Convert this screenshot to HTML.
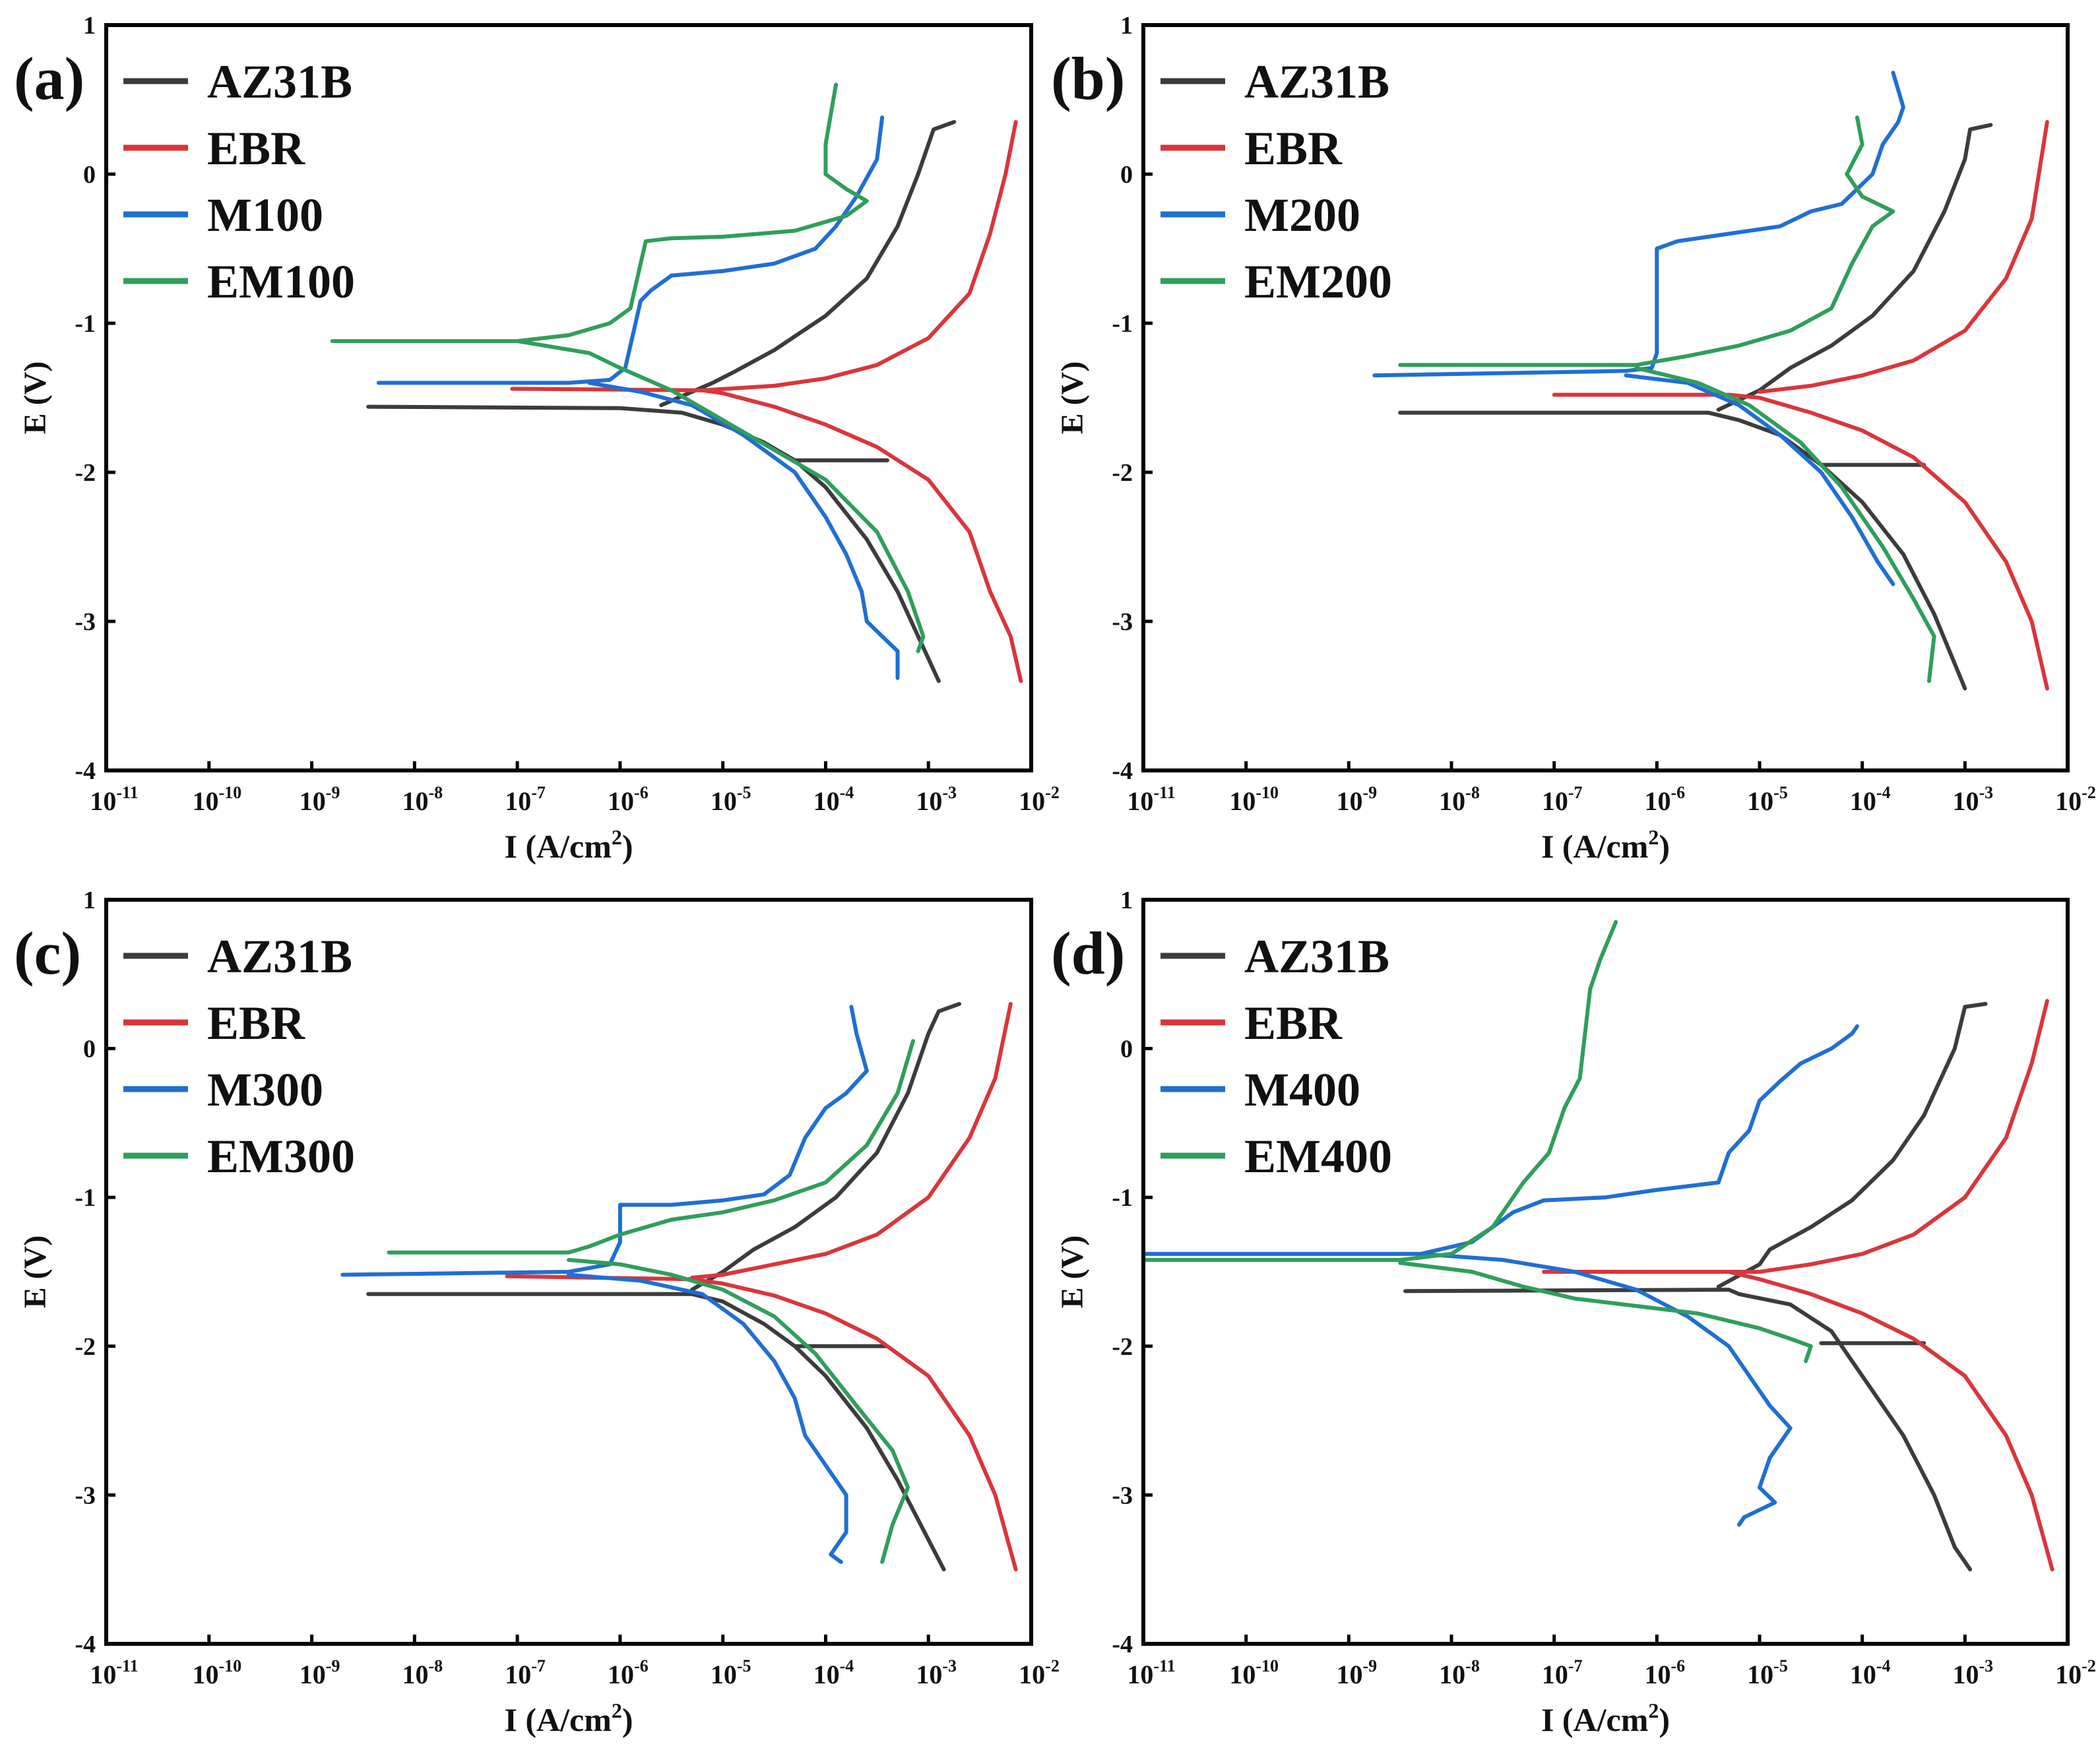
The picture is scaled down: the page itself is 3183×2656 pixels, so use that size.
<!DOCTYPE html>
<html><head><meta charset="utf-8">
<style>
html,body{margin:0;padding:0;background:#fff;}
svg{display:block;}
text{font-family:"Liberation Serif",serif;font-weight:bold;fill:#111;}
</style></head>
<body>
<svg id="fig" width="3183" height="2656" viewBox="0 0 3183 2656" xmlns="http://www.w3.org/2000/svg"></svg>
<script>
// ---- data: [log10(I), E] points ----
const xTickExps = [-11,-10,-9,-8,-7,-6,-5,-4,-3,-2];
const yTicks = [1,0,-1,-2,-3,-4];
const seriesColors = ["#3c3c3c","#d8363c","#1f6fd2","#2f9e5c"];

const aNames = ["AZ31B","EBR","M100","EM100"];
const aAZ_cat = [[-8.45,-1.56],[-6,-1.57],[-5.4,-1.6],[-5,-1.68],[-4.6,-1.8],[-4.3,-1.92],[-4,-2.1],[-3.6,-2.45],[-3.3,-2.8],[-3.1,-3.1],[-2.9,-3.4]];
const aAZ_hor = [[-4.3,-1.92],[-3.4,-1.92]];
const aAZ_ano = [[-5.6,-1.55],[-5.1,-1.4],[-4.9,-1.33],[-4.5,-1.18],[-4,-0.95],[-3.6,-0.7],[-3.3,-0.35],[-3.1,0],[-2.95,0.3],[-2.75,0.35]];
const aEBR_cat = [[-7.05,-1.44],[-5.2,-1.45],[-5,-1.47],[-4.5,-1.56],[-4,-1.68],[-3.5,-1.83],[-3,-2.05],[-2.6,-2.4],[-2.4,-2.8],[-2.2,-3.1],[-2.1,-3.4]];
const aEBR_ano = [[-5.2,-1.45],[-4.5,-1.42],[-4,-1.37],[-3.5,-1.28],[-3,-1.1],[-2.6,-0.8],[-2.4,-0.4],[-2.25,0],[-2.15,0.35]];
const aM_ano = [[-8.35,-1.4],[-6.5,-1.4],[-6.1,-1.38],[-5.95,-1.3],[-5.85,-1.0],[-5.8,-0.85],[-5.7,-0.78],[-5.5,-0.68],[-5,-0.65],[-4.5,-0.6],[-4.1,-0.5],[-3.9,-0.35],[-3.7,-0.15],[-3.5,0.1],[-3.45,0.38]];
const aM_cat = [[-6.3,-1.4],[-5.8,-1.46],[-5.3,-1.55],[-4.8,-1.75],[-4.3,-2.0],[-4,-2.3],[-3.8,-2.55],[-3.65,-2.8],[-3.6,-3.0],[-3.45,-3.1],[-3.3,-3.2],[-3.3,-3.38]];
const aEM_ano = [[-8.8,-1.12],[-7,-1.12],[-6.5,-1.08],[-6.1,-1.0],[-5.9,-0.9],[-5.8,-0.6],[-5.75,-0.45],[-5.5,-0.43],[-5,-0.42],[-4.3,-0.38],[-3.8,-0.28],[-3.6,-0.18],[-3.8,-0.1],[-4.0,0],[-4.0,0.2],[-3.95,0.4],[-3.9,0.6]];
const aEM_cat = [[-7,-1.12],[-6.3,-1.2],[-6,-1.3],[-5.5,-1.45],[-5,-1.65],[-4.5,-1.85],[-4,-2.05],[-3.5,-2.4],[-3.2,-2.8],[-3.05,-3.1],[-3.1,-3.2]];

const bNames = ["AZ31B","EBR","M200","EM200"];
const bAZ_cat = [[-8.5,-1.6],[-5.5,-1.6],[-5.2,-1.65],[-4.8,-1.75],[-4.4,-1.95],[-4,-2.2],[-3.6,-2.55],[-3.3,-2.95],[-3.0,-3.45]];
const bAZ_hor = [[-4.4,-1.95],[-3.4,-1.95]];
const bAZ_ano = [[-5.4,-1.58],[-5.0,-1.45],[-4.7,-1.3],[-4.3,-1.15],[-3.9,-0.95],[-3.5,-0.65],[-3.2,-0.25],[-3,0.1],[-2.95,0.3],[-2.75,0.33]];
const bEBR_cat = [[-7.0,-1.48],[-5.3,-1.48],[-5,-1.5],[-4.5,-1.6],[-4,-1.72],[-3.5,-1.9],[-3,-2.2],[-2.6,-2.6],[-2.35,-3],[-2.2,-3.45]];
const bEBR_ano = [[-5,-1.46],[-4.5,-1.42],[-4,-1.35],[-3.5,-1.25],[-3,-1.05],[-2.6,-0.7],[-2.35,-0.3],[-2.2,0.35]];
const bM_ano = [[-8.75,-1.35],[-6.3,-1.32],[-6.05,-1.3],[-6.0,-1.2],[-6.0,-0.5],[-5.8,-0.45],[-5.3,-0.4],[-4.8,-0.35],[-4.5,-0.25],[-4.2,-0.2],[-3.9,0],[-3.8,0.2],[-3.65,0.35],[-3.6,0.45],[-3.7,0.68]];
const bM_cat = [[-6.3,-1.35],[-5.7,-1.4],[-5.2,-1.55],[-4.8,-1.75],[-4.4,-2.0],[-4.1,-2.3],[-3.85,-2.6],[-3.7,-2.75]];
const bEM_ano = [[-8.5,-1.28],[-6.2,-1.28],[-5.7,-1.22],[-5.2,-1.15],[-4.7,-1.05],[-4.3,-0.9],[-4.1,-0.6],[-3.9,-0.35],[-3.7,-0.25],[-4.0,-0.15],[-4.15,0],[-4.0,0.2],[-4.05,0.38]];
const bEM_cat = [[-6.2,-1.3],[-5.6,-1.4],[-5.1,-1.55],[-4.6,-1.8],[-4.2,-2.1],[-3.8,-2.5],[-3.5,-2.85],[-3.3,-3.1],[-3.35,-3.4]];

const cNames = ["AZ31B","EBR","M300","EM300"];
const cAZ_cat = [[-8.45,-1.65],[-5.3,-1.65],[-5,-1.7],[-4.6,-1.85],[-4.3,-2.0],[-4.0,-2.2],[-3.6,-2.55],[-3.3,-2.9],[-2.85,-3.5]];
const cAZ_hor = [[-4.3,-2.0],[-3.4,-2.0]];
const cAZ_ano = [[-5.3,-1.62],[-5.0,-1.5],[-4.7,-1.35],[-4.3,-1.2],[-3.9,-1.0],[-3.5,-0.7],[-3.2,-0.3],[-3,0.1],[-2.9,0.25],[-2.7,0.3]];
const cEBR_cat = [[-7.1,-1.53],[-5.3,-1.55],[-5,-1.58],[-4.5,-1.66],[-4,-1.78],[-3.5,-1.95],[-3,-2.2],[-2.6,-2.6],[-2.35,-3.0],[-2.15,-3.5]];
const cEBR_ano = [[-5.3,-1.54],[-5,-1.52],[-4.5,-1.45],[-4,-1.38],[-3.5,-1.25],[-3,-1.0],[-2.6,-0.6],[-2.35,-0.2],[-2.2,0.3]];
const cM_ano = [[-8.7,-1.52],[-6.5,-1.5],[-6.1,-1.45],[-6.0,-1.3],[-6.0,-1.05],[-5.5,-1.05],[-5,-1.02],[-4.6,-0.98],[-4.35,-0.85],[-4.2,-0.6],[-4,-0.4],[-3.8,-0.3],[-3.6,-0.15],[-3.7,0.1],[-3.75,0.28]];
const cM_cat = [[-6.5,-1.52],[-5.8,-1.56],[-5.2,-1.65],[-4.8,-1.85],[-4.5,-2.1],[-4.3,-2.35],[-4.2,-2.6],[-4.0,-2.8],[-3.8,-3.0],[-3.8,-3.25],[-3.95,-3.4],[-3.85,-3.45]];
const cEM_ano = [[-8.25,-1.37],[-6.5,-1.37],[-6.3,-1.33],[-6,-1.25],[-5.5,-1.15],[-5,-1.1],[-4.5,-1.02],[-4,-0.9],[-3.6,-0.65],[-3.3,-0.3],[-3.15,0.05]];
const cEM_cat = [[-6.5,-1.42],[-6,-1.45],[-5.5,-1.52],[-5,-1.62],[-4.5,-1.8],[-4.1,-2.05],[-3.7,-2.4],[-3.35,-2.7],[-3.2,-2.95],[-3.35,-3.2],[-3.45,-3.45]];

const dNames = ["AZ31B","EBR","M400","EM400"];
const dAZ_cat = [[-8.45,-1.63],[-5.3,-1.62],[-5.2,-1.65],[-4.7,-1.72],[-4.3,-1.9],[-4.0,-2.2],[-3.6,-2.6],[-3.3,-3.0],[-3.1,-3.35],[-2.95,-3.5]];
const dAZ_hor = [[-4.4,-1.98],[-3.4,-1.98]];
const dAZ_ano = [[-5.4,-1.6],[-5,-1.45],[-4.9,-1.35],[-4.5,-1.2],[-4.1,-1.02],[-3.7,-0.75],[-3.4,-0.45],[-3.1,0],[-3.0,0.28],[-2.8,0.3]];
const dEBR_cat = [[-7.1,-1.5],[-5.3,-1.5],[-5,-1.55],[-4.5,-1.65],[-4,-1.78],[-3.5,-1.95],[-3,-2.2],[-2.6,-2.6],[-2.35,-3.0],[-2.15,-3.5]];
const dEBR_ano = [[-5.3,-1.5],[-5,-1.5],[-4.5,-1.45],[-4,-1.38],[-3.5,-1.25],[-3,-1.0],[-2.6,-0.6],[-2.35,-0.1],[-2.2,0.32]];
const dM_ano = [[-11,-1.38],[-8.3,-1.38],[-7.8,-1.3],[-7.4,-1.1],[-7.1,-1.02],[-6.5,-1.0],[-6,-0.95],[-5.4,-0.9],[-5.3,-0.7],[-5.1,-0.55],[-5,-0.35],[-4.8,-0.22],[-4.6,-0.1],[-4.3,0],[-4.1,0.1],[-4.05,0.15]];
const dM_cat = [[-8.3,-1.38],[-7.5,-1.42],[-6.8,-1.5],[-6.2,-1.62],[-5.7,-1.8],[-5.3,-2.0],[-5.05,-2.25],[-4.9,-2.4],[-4.7,-2.55],[-4.9,-2.75],[-5.0,-2.95],[-4.85,-3.05],[-5.15,-3.15],[-5.2,-3.2]];
const dEM_ano = [[-11,-1.42],[-8.5,-1.42],[-8,-1.38],[-7.6,-1.2],[-7.3,-0.9],[-7.05,-0.7],[-6.9,-0.4],[-6.75,-0.2],[-6.7,0.1],[-6.65,0.4],[-6.55,0.6],[-6.4,0.85]];
const dEM_cat = [[-8.5,-1.44],[-7.8,-1.5],[-7.3,-1.6],[-6.8,-1.68],[-6.2,-1.73],[-5.6,-1.78],[-5.0,-1.88],[-4.7,-1.95],[-4.5,-2.0],[-4.55,-2.1]];

const NS = "http://www.w3.org/2000/svg";
const svg = document.getElementById("fig");
function mk(tag, attrs, parent){
  const e = document.createElementNS(NS, tag);
  for (const k in attrs) e.setAttribute(k, attrs[k]);
  (parent||svg).appendChild(e);
  return e;
}

function panel(label, L, R, T, B, names, series){
  const g = mk("g", {});
  
  
  const xs = v => L + (v + 11) / 9 * (R - L);
  const ys = v => T + (1 - v) / 5 * (B - T);
  series.forEach((segs, i) => {
    segs.forEach((pts, j) => {
      const p = mk("polyline", {points: pts.map(q => xs(q[0]).toFixed(1)+","+ys(q[1]).toFixed(1)).join(" "),
        fill:"none", stroke: seriesColors[i], "stroke-width": 6, "stroke-linejoin":"round", "stroke-linecap":"round"}, g);
      
      
    });
  });
  const fr = mk("rect", {x:L, y:T, width:R-L, height:B-T, fill:"none", stroke:"#000", "stroke-width":6}, g);
  
  
  xTickExps.forEach(e => {
    const x = xs(e);
    mk("line", {x1:x, x2:x, y1:B, y2:B-14, stroke:"#000", "stroke-width":5}, g);
    const t = mk("text", {x:x+12, y:B+60, "font-size":40, "text-anchor":"middle"}, g);
    
    
    t.textContent = "10";
    const s = mk("tspan", {"font-size":26, dy:-18}, t);
    s.textContent = String(e);
  });
  yTicks.forEach(v => {
    const y = ys(v);
    mk("line", {x1:L, x2:L+14, y1:y, y2:y, stroke:"#000", "stroke-width":5}, g);
    const t = mk("text", {x:L-16, y:y+13, "font-size":38, "text-anchor":"end"}, g);
    
    
    t.textContent = String(v);
  });
  const xt = mk("text", {x:(L+R)/2, y:B+132, "font-size":50, "text-anchor":"middle"}, g);
  
  
  xt.textContent = "I (A/cm";
  const sp = mk("tspan", {"font-size":32, dy:-20}, xt); sp.textContent = "2";
  const sp2 = mk("tspan", {dy:20}, xt); sp2.textContent = ")";
  const cy = (T+B)/2;
  const yt = mk("text", {x:L-92, y:cy, "font-size":48, "text-anchor":"middle", transform:"rotate(-90 "+(L-92)+" "+cy+")"}, g);
  
  
  yt.textContent = "E (V)";
  const pl = mk("text", {x:L-140, y:T+112, "font-size":92}, g);
  
  
  pl.textContent = "(" + label + ")";
  const offs = [85, 186, 287, 388];
  names.forEach((n, i) => {
    const y = T + offs[i];
    const ln = mk("line", {x1:L+26, x2:L+124, y1:y, y2:y, stroke:seriesColors[i], "stroke-width":9}, g);
    
    
    const t = mk("text", {x:L+153, y:y+25, "font-size":72}, g);
    
    
    t.textContent = n;
  });
}

panel("a", 161, 1563, 38, 1168, aNames,
  [[aAZ_cat, aAZ_hor, aAZ_ano],[aEBR_cat, aEBR_ano],[aM_ano, aM_cat],[aEM_ano, aEM_cat]]);
panel("b", 1733, 3134, 38, 1168, bNames,
  [[bAZ_cat, bAZ_hor, bAZ_ano],[bEBR_cat, bEBR_ano],[bM_ano, bM_cat],[bEM_ano, bEM_cat]]);
panel("c", 161, 1563, 1364, 2492, cNames,
  [[cAZ_cat, cAZ_hor, cAZ_ano],[cEBR_cat, cEBR_ano],[cM_ano, cM_cat],[cEM_ano, cEM_cat]]);
panel("d", 1733, 3134, 1364, 2492, dNames,
  [[dAZ_cat, dAZ_hor, dAZ_ano],[dEBR_cat, dEBR_ano],[dM_ano, dM_cat],[dEM_ano, dEM_cat]]);
</script>
</body></html>
